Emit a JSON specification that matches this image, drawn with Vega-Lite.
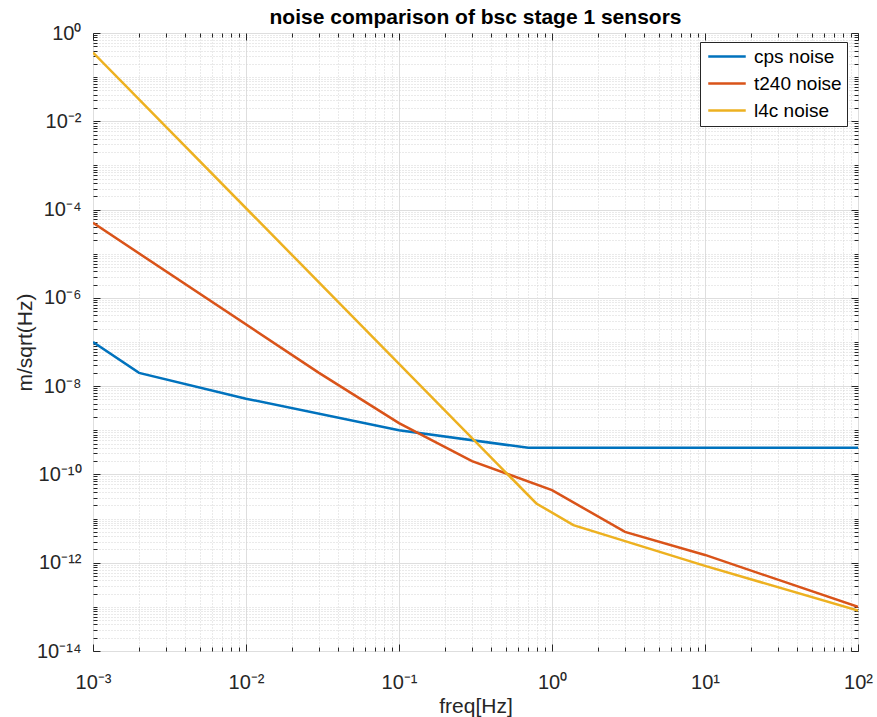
{
  "$schema": "https://vega.github.io/schema/vega-lite/v6.json",
  "width": 765,
  "height": 618,
  "autosize": {"type": "none"},
  "padding": {"left": 93, "top": 33, "right": 19, "bottom": 66},
  "background": "white",
  "title": {"text": "noise comparison of bsc stage 1 sensors", "fontSize": 21, "font": "Liberation Sans", "fontWeight": "bold", "color": "#000000", "anchor": "middle", "offset": -5},
  "config": {
    "font": "Liberation Sans",
    "view": {"stroke": "#262626", "strokeWidth": 1}
  },
  "data": {"values": [
    {"series": "cps noise", "freq": 0.001, "value": 1e-7},
    {"series": "cps noise", "freq": 0.002, "value": 2e-8},
    {"series": "cps noise", "freq": 0.01, "value": 5.2e-9},
    {"series": "cps noise", "freq": 0.1, "value": 1e-9},
    {"series": "cps noise", "freq": 0.7, "value": 4e-10},
    {"series": "cps noise", "freq": 100, "value": 4e-10},
    {"series": "t240 noise", "freq": 0.001, "value": 5e-5},
    {"series": "t240 noise", "freq": 0.03, "value": 2e-8},
    {"series": "t240 noise", "freq": 0.1, "value": 1.45e-9},
    {"series": "t240 noise", "freq": 0.3, "value": 2e-10},
    {"series": "t240 noise", "freq": 1, "value": 4.4e-11},
    {"series": "t240 noise", "freq": 3, "value": 5e-12},
    {"series": "t240 noise", "freq": 10, "value": 1.5e-12},
    {"series": "t240 noise", "freq": 100, "value": 1e-13},
    {"series": "l4c noise", "freq": 0.001, "value": 0.36},
    {"series": "l4c noise", "freq": 0.79, "value": 2.2e-11},
    {"series": "l4c noise", "freq": 1.38, "value": 7.1e-12},
    {"series": "l4c noise", "freq": 10, "value": 8.5e-13},
    {"series": "l4c noise", "freq": 100, "value": 8.2e-14}
  ]},
  "layer": [
    {
      "mark": {"type": "line", "strokeWidth": 2.5, "clip": true},
      "encoding": {
        "x": {"field": "freq", "type": "quantitative",
          "scale": {"type": "log", "domain": [0.001, 100], "nice": false},
          "axis": {"orient": "bottom", "values": [0.001, 0.01, 0.1, 1, 10, 100],
            "title": "freq[Hz]", "titleFontSize": 21, "titleFontWeight": "normal", "titleColor": "#262626", "titlePadding": 3,
            "labelFontSize": 20, "labelColor": "#262626", "labelPadding": 28, "labelFlush": false, "labelOverlap": false,
            "labelExpr": "'10' + replace(replace(replace(replace(replace(replace(replace(replace(replace(replace(replace('' + round(log(datum.value)/LN10), '-', '⁻'), '0', '⁰'), '1', '¹'), '2', '²'), '3', '³'), '4', '⁴'), '5', '⁵'), '6', '⁶'), '7', '⁷'), '8', '⁸'), '9', '⁹')",
            "grid": true, "gridColor": "#dedede", "gridWidth": 1,
            "ticks": true, "tickSize": -7, "tickColor": "#262626", "tickWidth": 1, "domain": false}},
        "y": {"field": "value", "type": "quantitative",
          "scale": {"type": "log", "domain": [1e-14, 1], "nice": false},
          "axis": {"orient": "left", "values": [1, 0.01, 1e-4, 1e-6, 1e-8, 1e-10, 1e-12, 1e-14],
            "title": "m/sqrt(Hz)", "titleFontSize": 21, "titleFontWeight": "normal", "titleColor": "#262626", "titlePadding": 1,
            "labelFontSize": 20, "labelColor": "#262626", "labelPadding": 19, "labelFlush": false, "labelOverlap": false,
            "labelExpr": "'10' + replace(replace(replace(replace(replace(replace(replace(replace(replace(replace(replace('' + round(log(datum.value)/LN10), '-', '⁻'), '0', '⁰'), '1', '¹'), '2', '²'), '3', '³'), '4', '⁴'), '5', '⁵'), '6', '⁶'), '7', '⁷'), '8', '⁸'), '9', '⁹')",
            "grid": true, "gridColor": "#dedede", "gridWidth": 1,
            "ticks": true, "tickSize": -7, "tickColor": "#262626", "tickWidth": 1, "domain": false}},
        "color": {"field": "series", "type": "nominal",
          "scale": {"domain": ["cps noise", "t240 noise", "l4c noise"], "range": ["#0072BD", "#D95319", "#EDB120"]},
          "legend": {"orient": "none", "legendX": 607, "legendY": 9, "title": null,
            "labelFontSize": 19, "labelColor": "#000000", "strokeColor": "#262626", "fillColor": "white",
            "padding": 5, "symbolType": "M-1,0H5", "symbolSize": 156.25, "symbolStrokeWidth": 2.5,
            "rowPadding": 7, "labelOffset": 30, "cornerRadius": 0}}
      }
    },
    {
      "mark": {"type": "point", "opacity": 0},
      "encoding": {
        "x": {"field": "freq", "type": "quantitative",
          "axis": {"orient": "bottom", "title": null, "labels": false, "domain": false,
            "values": [0.002,0.003,0.004,0.005,0.006,0.007,0.008,0.009,0.02,0.03,0.04,0.05,0.06,0.07,0.08,0.09,0.2,0.3,0.4,0.5,0.6,0.7,0.8,0.9,2,3,4,5,6,7,8,9,20,30,40,50,60,70,80,90],
            "grid": true, "gridColor": "#d4d4d4", "gridDash": [1, 2], "gridWidth": 1,
            "ticks": true, "tickSize": -4, "tickColor": "#262626", "tickWidth": 1}},
        "y": {"field": "value", "type": "quantitative",
          "axis": {"orient": "left", "title": null, "labels": false, "domain": false,
            "values": [2e-14,3e-14,4e-14,5e-14,6e-14,7e-14,8e-14,9e-14,1e-13,2e-13,3e-13,4e-13,5e-13,6e-13,7e-13,8e-13,9e-13,2e-12,3e-12,4e-12,5e-12,6e-12,7e-12,8e-12,9e-12,1e-11,2e-11,3e-11,4e-11,5e-11,6e-11,7e-11,8e-11,9e-11,2e-10,3e-10,4e-10,5e-10,6e-10,7e-10,8e-10,9e-10,1e-9,2e-9,3e-9,4e-9,5e-9,6e-9,7e-9,8e-9,9e-9,2e-8,3e-8,4e-8,5e-8,6e-8,7e-8,8e-8,9e-8,1e-7,2e-7,3e-7,4e-7,5e-7,6e-7,7e-7,8e-7,9e-7,2e-6,3e-6,4e-6,5e-6,6e-6,7e-6,8e-6,9e-6,1e-5,2e-5,3e-5,4e-5,5e-5,6e-5,7e-5,8e-5,9e-5,2e-4,3e-4,4e-4,5e-4,6e-4,7e-4,8e-4,9e-4,1e-3,2e-3,3e-3,4e-3,5e-3,6e-3,7e-3,8e-3,9e-3,2e-2,3e-2,4e-2,5e-2,6e-2,7e-2,8e-2,9e-2,0.1,0.2,0.3,0.4,0.5,0.6,0.7,0.8,0.9],
            "grid": true, "gridColor": "#d4d4d4", "gridDash": [1, 2], "gridWidth": 1,
            "ticks": true, "tickSize": -4, "tickColor": "#262626", "tickWidth": 1}}
      }
    },
    {
      "mark": {"type": "point", "opacity": 0},
      "encoding": {
        "x": {"field": "freq", "type": "quantitative",
          "axis": {"orient": "top", "title": null, "labels": false, "domain": false, "grid": false,
            "values": [0.001, 0.01, 0.1, 1, 10, 100],
            "ticks": true, "tickSize": -7, "tickColor": "#262626", "tickWidth": 1}},
        "y": {"field": "value", "type": "quantitative",
          "axis": {"orient": "right", "title": null, "labels": false, "domain": false, "grid": false,
            "values": [1, 0.01, 1e-4, 1e-6, 1e-8, 1e-10, 1e-12, 1e-14],
            "ticks": true, "tickSize": -7, "tickColor": "#262626", "tickWidth": 1}}
      }
    },
    {
      "mark": {"type": "point", "opacity": 0},
      "encoding": {
        "x": {"field": "freq", "type": "quantitative",
          "axis": {"orient": "top", "title": null, "labels": false, "domain": false, "grid": false,
            "values": [0.002,0.003,0.004,0.005,0.006,0.007,0.008,0.009,0.02,0.03,0.04,0.05,0.06,0.07,0.08,0.09,0.2,0.3,0.4,0.5,0.6,0.7,0.8,0.9,2,3,4,5,6,7,8,9,20,30,40,50,60,70,80,90],
            "ticks": true, "tickSize": -4, "tickColor": "#262626", "tickWidth": 1}},
        "y": {"field": "value", "type": "quantitative",
          "axis": {"orient": "right", "title": null, "labels": false, "domain": false, "grid": false,
            "values": [2e-14,3e-14,4e-14,5e-14,6e-14,7e-14,8e-14,9e-14,1e-13,2e-13,3e-13,4e-13,5e-13,6e-13,7e-13,8e-13,9e-13,2e-12,3e-12,4e-12,5e-12,6e-12,7e-12,8e-12,9e-12,1e-11,2e-11,3e-11,4e-11,5e-11,6e-11,7e-11,8e-11,9e-11,2e-10,3e-10,4e-10,5e-10,6e-10,7e-10,8e-10,9e-10,1e-9,2e-9,3e-9,4e-9,5e-9,6e-9,7e-9,8e-9,9e-9,2e-8,3e-8,4e-8,5e-8,6e-8,7e-8,8e-8,9e-8,1e-7,2e-7,3e-7,4e-7,5e-7,6e-7,7e-7,8e-7,9e-7,2e-6,3e-6,4e-6,5e-6,6e-6,7e-6,8e-6,9e-6,1e-5,2e-5,3e-5,4e-5,5e-5,6e-5,7e-5,8e-5,9e-5,2e-4,3e-4,4e-4,5e-4,6e-4,7e-4,8e-4,9e-4,1e-3,2e-3,3e-3,4e-3,5e-3,6e-3,7e-3,8e-3,9e-3,2e-2,3e-2,4e-2,5e-2,6e-2,7e-2,8e-2,9e-2,0.1,0.2,0.3,0.4,0.5,0.6,0.7,0.8,0.9],
            "ticks": true, "tickSize": -4, "tickColor": "#262626", "tickWidth": 1}}
      }
    }
  ],
  "resolve": {"axis": {"x": "independent", "y": "independent"}}
}
